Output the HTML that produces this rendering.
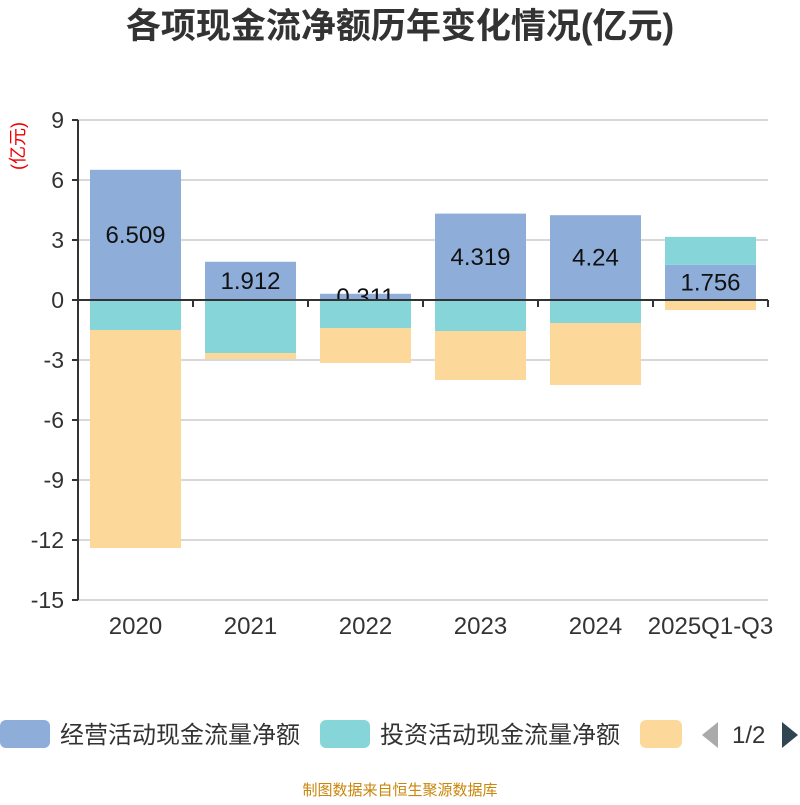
<!DOCTYPE html>
<html><head><meta charset="utf-8"><style>
body{margin:0;background:#fff;width:800px;height:800px;overflow:hidden;font-family:"Liberation Sans","Noto Sans CJK SC",sans-serif}
</style></head><body>
<svg id="c" width="800" height="800" xmlns="http://www.w3.org/2000/svg">
<text x="400" y="38" text-anchor="middle" font-size="35" font-weight="bold" fill="#333" font-family="Liberation Sans,Noto Sans CJK SC,sans-serif">各项现金流净额历年变化情况(亿元)</text>
<text transform="translate(24,146) rotate(-90)" text-anchor="middle" font-size="18" fill="#e00" font-family="Liberation Sans,Noto Sans CJK SC,sans-serif">(亿元)</text>
<g id="grid"></g><g id="bars"></g><g id="axes"></g>
<g font-family="Liberation Sans,Noto Sans CJK SC,sans-serif" font-size="24" fill="#333">
<g><rect x="0" y="720" width="50" height="28" rx="6" fill="#8eadd9"/><text x="60" y="743">经营活动现金流量净额</text></g>
<g><rect x="320" y="720" width="50" height="28" rx="6" fill="#86d5d8"/><text x="380" y="743">投资活动现金流量净额</text></g>
<g><rect x="640" y="720" width="42" height="28" rx="6" fill="#fdd89b"/></g>
<path d="M718 722 L702 735 L718 748 Z" fill="#aaa"/>
<text x="732" y="743">1/2</text>
<path d="M782 722 L798 735 L782 748 Z" fill="#2f4554"/>
</g>
<text x="400" y="795" text-anchor="middle" font-size="15" fill="#c8860a" font-family="Liberation Sans,Noto Sans CJK SC,sans-serif">制图数据来自恒生聚源数据库</text>
</svg>
<script>
const categories=["2020","2021","2022","2023","2024","2025Q1-Q3"];
const operating=[6.509,1.912,0.311,4.319,4.24,1.756];
const investing=[-1.5,-2.65,-1.4,-1.55,-1.15,1.4];
const financing=[-10.9,-0.3,-1.75,-2.45,-3.1,-0.5];
const yTicks=[9,6,3,0,-3,-6,-9,-12,-15];
const NS="http://www.w3.org/2000/svg";
const x0=78,x1=768,y0=120,y1=600,ymax=9,ymin=-15;
const y=v=>y0+(ymax-v)/(ymax-ymin)*(y1-y0);
const bw=(x1-x0)/categories.length;
function mk(t,a,p){const e=document.createElementNS(NS,t);for(const k in a)e.setAttribute(k,a[k]);p.appendChild(e);return e;}
const G=document.getElementById('grid'),B=document.getElementById('bars'),A=document.getElementById('axes');
yTicks.forEach(v=>{
 const l=mk('line',{x1:x0,x2:x1,y1:y(v),y2:y(v),stroke:'#ccc','stroke-width':1.5},G);
 
 
 const t=mk('text',{x:x0-14,y:y(v)+8,'text-anchor':'end','font-size':23,fill:'#333'},A);
 t.textContent=v;
 
 
 mk('line',{x1:x0-6,x2:x0,y1:y(v),y2:y(v),stroke:'#333','stroke-width':2},A);
});
mk('line',{x1:x0,x2:x0,y1:y0,y2:y1,stroke:'#333','stroke-width':2},A);
mk('line',{x1:x0,x2:x1,y1:y(0),y2:y(0),stroke:'#333','stroke-width':2},A);
categories.forEach((c,i)=>{
 const bx=x0+i*bw+12,w=bw-24;
 let pos=0,neg=0;
 [[operating,'#8eadd9','operating'],[investing,'#86d5d8','investing'],[financing,'#fdd89b','financing']].forEach(([arr,col,nm],si)=>{
  const v=arr[i];let a,b;
  if(v>=0){a=pos;b=pos+v;pos=b;}else{a=neg;b=neg+v;neg=b;}
  const r=mk('rect',{x:bx,y:Math.min(y(a),y(b)),width:w,height:Math.abs(y(a)-y(b)),fill:col},B);
  
  
  if(si===0){
   const t=mk('text',{x:bx+w/2,y:(y(a)+y(b))/2+8,'text-anchor':'middle','font-size':24,fill:'#111'},B);
   t.textContent=v;
   
   
  }
 });
 const t=mk('text',{x:x0+i*bw+bw/2,y:634,'text-anchor':'middle','font-size':24,fill:'#333'},A);
 t.textContent=c;
 
 
 mk('line',{x1:x0+(i+1)*bw,x2:x0+(i+1)*bw,y1:y(0),y2:y(0)+7,stroke:'#333','stroke-width':2},A);
});
</script>
</body></html>
